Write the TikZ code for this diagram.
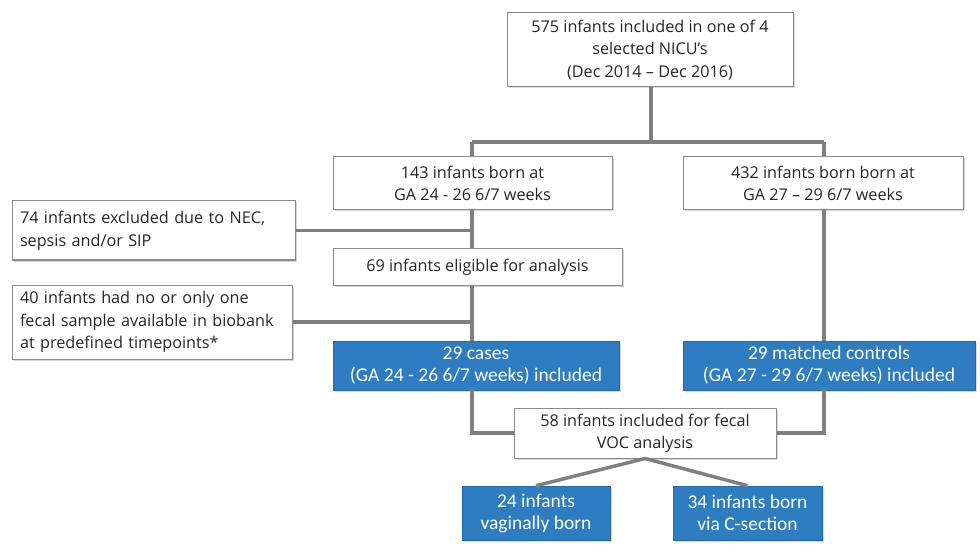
\documentclass[tikz,border=0pt]{standalone}
\usepackage{fontspec}
\setmainfont{Open Sans}
\newfontfamily\bluefont{Carlito}
\usetikzlibrary{shadows}
\definecolor{boxblue}{HTML}{2E7DC0}
\definecolor{linegray}{HTML}{7F7F7F}
\definecolor{boxgray}{HTML}{8A8A8A}
\begin{document}
\begin{tikzpicture}[x=1pt,y=-1pt,
  wbox/.style={draw=boxgray, line width=1pt, fill=white, inner sep=0pt, align=center,
    drop shadow={shadow xshift=1.5pt,shadow yshift=-1.5pt,opacity=0.3},
    font=\fontsize{16.2}{22.5}\selectfont, text=black!85},
  lbox/.style={wbox, align=left, inner xsep=8pt},
  bbox/.style={draw=boxblue!85!black, line width=0.6pt, fill=boxblue, inner sep=0pt, align=center,
    drop shadow={shadow xshift=1.5pt,shadow yshift=-1.5pt,opacity=0.3},
    font=\bluefont\fontsize{19.5}{22}\selectfont, text=white},
  conn/.style={draw=linegray, line width=3.5pt}]
\useasboundingbox (0,0) rectangle (980,556);

\coordinate (split) at (651,142);
\coordinate (splitL) at (472,142);
\coordinate (splitR) at (824,142);

\node[wbox, minimum width=286, minimum height=74] (top) at (650,50)
  {575 infants included in one of 4\\selected NICU’s\\(Dec 2014 – Dec 2016)};
\node[wbox, minimum width=279, minimum height=53] (b143) at (472.5,183.5)
  {143 infants born at\\GA 24 - 26 6/7 weeks};
\node[wbox, minimum width=280, minimum height=53] (b432) at (823,183.5)
  {432 infants born born at\\GA 27 – 29 6/7 weeks};
\node[lbox, text width=267, minimum height=59] (b74) at (153.5,230.5)
  {74 infants excluded due to NEC,\\sepsis and/or SIP};
\node[wbox, minimum width=289, minimum height=36] (b69) at (477.5,267)
  {69 infants eligible for analysis};
\node[lbox, text width=264, minimum height=74] (b40) at (152,322)
  {40 infants had no or only one\\fecal sample available in biobank\\at predefined timepoints*};
\node[bbox, minimum width=286, minimum height=49] (cases) at (476,365.5)
  {29 cases\\(GA 24 - 26 6/7 weeks) included};
\node[bbox, minimum width=292, minimum height=49] (matched) at (829,365.5)
  {29 matched controls\\(GA 27 - 29 6/7 weeks) included};
\node[wbox, minimum width=262, minimum height=50] (b58) at (645,433)
  {58 infants included for fecal\\VOC analysis};
\node[bbox, minimum width=148, minimum height=54] (b24) at (536,513)
  {24 infants\\vaginally born};
\node[bbox, minimum width=149, minimum height=54] (b34) at (747.5,513)
  {34 infants born\\via C-section};

\draw[conn] (top.south -| split) -- (split);
\draw[conn] (splitL) -- (splitR);
\draw[conn] (splitL) -- (b143.north -| splitL);
\draw[conn] (b143.south -| splitL) -- (b69.north -| splitL);
\draw[conn] (b69.south -| splitL) -- (cases.north -| splitL);
\draw[conn] (b74.east) -- (b74.east -| splitL);
\draw[conn] (b40.east) -- (b40.east -| splitL);
\draw[conn] (splitR) -- (b432.north -| splitR);
\draw[conn] (b432.south -| splitR) -- (matched.north -| splitR);
\draw[conn] (cases.south -| splitL) |- (b58.west);
\draw[conn] (matched.south -| splitR) |- (b58.east);
\draw[conn] (b58.south) -- (b24.north);
\draw[conn] (b58.south) -- (b34.north);
\end{tikzpicture}
\end{document}
